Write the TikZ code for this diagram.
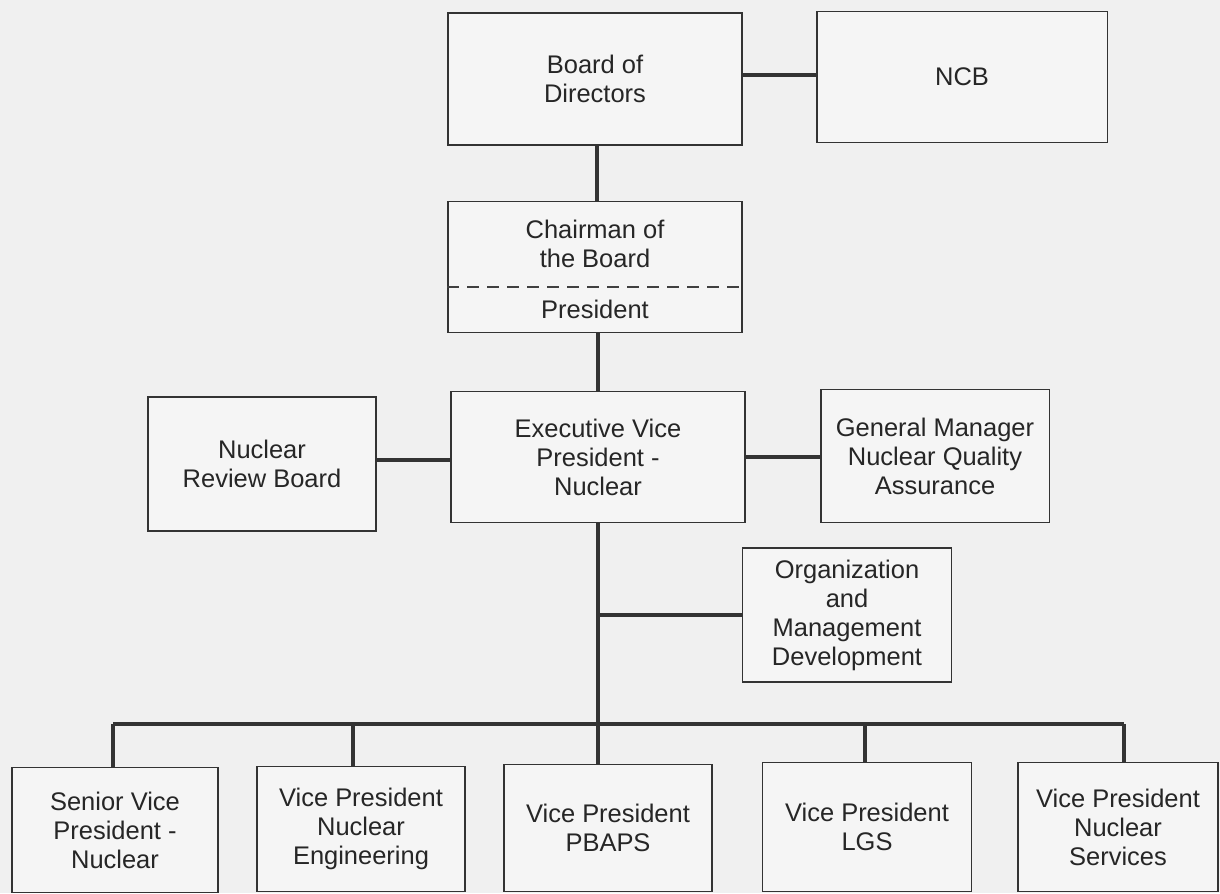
\documentclass[tikz,border=0pt]{standalone}
\usepackage{fontspec}
\setmainfont{Liberation Sans}
\begin{document}
\begin{tikzpicture}[x=0.02cm,y=-0.02cm,
  box/.style={draw=black!80,line width=1.1pt,fill=black!4,align=center,inner sep=2pt,
    font=\fontsize{14.5}{16.5}\selectfont,text=black!85},
  link/.style={draw=black!80,line width=2.3pt},
  sep/.style={draw=black!75,line width=1.1pt,dash pattern=on 0.24cm off 0.16cm}]

\fill[black!6] (0,0) rectangle (1220,893); % Page
\useasboundingbox (0,0) rectangle (1220,893);

\node[box,minimum width=5.88cm,minimum height=2.64cm] (board) at (595,79) {Board of\\Directors}; % Top
\node[box,minimum width=5.82cm,minimum height=2.62cm] (ncb) at (962,77) {NCB};
\node[box,minimum width=5.88cm,minimum height=2.62cm] (chair) at (595,267) {}; % Chairman / President
\node[align=center,font=\fontsize{14.5}{16.5}\selectfont,text=black!85] (chairtxt) at (595,244) {Chairman of\\the Board};
\node[font=\fontsize{14.5}{16.5}\selectfont,text=black!85] (prestxt) at (595,309) {President};
\draw[sep] (chair.west |- 0,287) -- (chair.east |- 0,287);

\node[box,minimum width=5.88cm,minimum height=2.62cm] (evp) at (598,457) {Executive Vice\\President -\\Nuclear}; % Middle row
\node[box,minimum width=4.56cm,minimum height=2.68cm] (nrb) at (262,464) {Nuclear\\Review Board};
\node[box,minimum width=4.58cm,minimum height=2.66cm] (gm) at (935,456) {General Manager\\Nuclear Quality\\Assurance};
\node[box,minimum width=4.18cm,minimum height=2.68cm] (omd) at (847,615) {Organization\\and\\Management\\Development};

\node[box,minimum width=4.12cm,minimum height=2.5cm] (svp) at (115,830) {Senior Vice\\President -\\Nuclear}; % Bottom row
\node[box,minimum width=4.16cm,minimum height=2.5cm] (vpne) at (361,829) {Vice President\\Nuclear\\Engineering};
\node[box,minimum width=4.16cm,minimum height=2.54cm] (pbaps) at (608,828) {Vice President\\PBAPS};
\node[box,minimum width=4.18cm,minimum height=2.58cm] (lgs) at (867,827) {Vice President\\LGS};
\node[box,minimum width=4.0cm,minimum height=2.58cm] (vpns) at (1118,827) {Vice President\\Nuclear\\Services};

\coordinate (bus) at (598,724); % Bus line
\coordinate (busl) at (113,724);
\coordinate (busr) at (1124,724);
\coordinate (omdj) at (598,615);

\draw[link] (board.east |- 0,75) -- (ncb.west |- 0,75);
\draw[link] (board.south -| 597,0) -- (chair.north -| 597,0);
\draw[link] (chair.south -| 598,0) -- (evp.north);
\draw[link] (nrb.east |- 0,460) -- (evp.west |- 0,460);
\draw[link] (evp.east |- 0,457) -- (gm.west |- 0,457);
\draw[link] (evp.south) -- (bus);
\draw[link] (omdj) -- (omd.west |- omdj);
\draw[link] (busl) -- (busr);

\draw[link] (busl) -- (busl |- svp.north);
\draw[link] (353,724) -- (vpne.north -| 353,0);
\draw[link] (bus) -- (pbaps.north -| bus);
\draw[link] (865,724) -- (lgs.north -| 865,0);
\draw[link] (busr) -- (busr |- vpns.north);

\end{tikzpicture}
\end{document}
